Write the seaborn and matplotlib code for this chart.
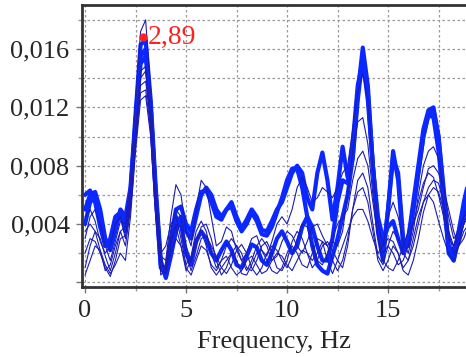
import matplotlib
matplotlib.use("Agg")
import matplotlib.pyplot as plt
import seaborn as sns
import numpy as np
from matplotlib.ticker import MultipleLocator, FuncFormatter

# frequency grid, 0.25 Hz step (0 .. 19 Hz)
freq = np.arange(0, 19.01, 0.25)

# spectral amplitudes, in units of 1e-3 (one row per Hz)
thick_1 = [5.0, 6.0, 6.2, 5.0,  3.0, 2.2, 3.5, 5.0,  4.5, 6.5, 11.5, 16.3,
           16.6, 12.5, 6.5, 1.5,  0.3, 1.8, 3.5, 4.5,  3.5, 3.0, 4.5, 6.0,
           6.5, 6.0, 5.0, 4.5,  5.0, 5.5, 4.5, 3.7,  4.3, 5.0, 4.5, 3.6,
           3.5, 4.2, 5.0, 5.5,  6.5, 7.5, 8.0, 7.5,  5.8, 5.0, 7.5, 8.9,
           7.0, 4.3, 6.5, 9.3,  7.2, 8.5, 13.0, 16.1,  13.5, 8.0, 3.5, 1.5,
           5.0, 9.0, 7.0, 2.5,  3.0, 5.5, 8.0, 10.5,  11.8, 12.0, 10.0, 6.0,
           2.0, 1.5, 3.5, 5.5,  7.0]
thick_2 = [4.0, 5.5, 5.8, 4.5,  2.5, 2.8, 4.3, 4.8,  3.5, 6.0, 11.0, 15.0,
           15.5, 12.0, 6.0, 1.2,  0.4, 2.5, 4.5, 4.0,  2.0, 1.2, 2.8, 3.5,
           3.0, 2.0, 1.5, 2.2,  2.8, 2.2, 1.2, 1.0,  1.8, 2.6, 2.4, 1.5,
           1.2, 2.0, 3.0, 3.5,  2.8, 2.0, 2.5, 3.8,  4.5, 3.8, 2.5, 1.5,
           1.5, 3.0, 5.5, 7.0,  6.8, 9.5, 13.5, 15.2,  12.5, 8.0, 4.5, 3.0,
           3.8, 4.2, 3.0, 2.0,  3.0, 5.0, 7.5, 10.0,  11.5, 11.3, 9.0, 5.5,
           2.5, 2.0, 3.5, 5.0,  6.0]
thick_3 = [6.0, 6.3, 5.5, 3.8,  2.5, 3.0, 4.5, 4.8,  3.8, 6.2, 11.0, 15.5,
           16.0, 12.0, 6.0, 1.0,  0.8, 3.0, 5.0, 5.2,  4.0, 3.5, 5.0, 6.2,
           6.3, 5.5, 4.5, 4.3,  5.0, 5.2, 4.2, 3.5,  4.0, 4.8, 4.2, 3.3,
           3.2, 3.8, 4.8, 5.8,  7.0, 7.8, 7.8, 6.5,  4.5, 2.5, 1.2, 0.8,
           0.6, 1.8, 3.0, 4.5,  6.0, 8.5, 12.5, 15.5,  13.0, 8.0, 4.0, 2.0,
           5.0, 8.5, 7.5, 3.0,  2.5, 5.0, 7.5, 10.0,  11.5, 11.8, 10.0, 6.5,
           2.5, 1.5, 3.0, 4.5,  6.0]
thin_1 = [3.0, 4.5, 5.0, 4.0,  2.5, 1.5, 2.8, 4.2,  4.0, 7.0, 12.5, 17.2,
          18.0, 13.0, 6.5, 1.8,  1.5, 4.5, 6.7, 6.0,  3.5, 2.5, 5.0, 7.0,
          6.5, 4.5, 2.5, 2.8,  3.8, 3.5, 2.2, 1.5,  2.0, 3.0, 3.2, 2.2,
          1.8, 2.8, 4.0, 4.5,  4.0, 5.0, 6.5, 7.2,  6.5, 5.5, 5.8, 6.5,
          6.2, 5.8, 6.5, 7.5,  8.0, 10.5, 13.0, 14.3,  12.5, 8.0, 4.0, 2.5,
          4.5, 5.5, 4.5, 2.8,  2.0, 3.5, 6.0, 8.0,  9.0, 9.3, 8.5, 6.5,
          4.5, 3.0, 3.5, 4.5,  5.5]
thin_2 = [1.0, 2.5, 3.5, 3.0,  1.8, 0.8, 2.0, 3.5,  3.8, 6.0, 10.0, 13.5,
          13.8, 11.0, 5.5, 1.5,  0.8, 2.5, 4.0, 3.8,  2.0, 0.8, 1.8, 3.0,
          3.2, 2.5, 1.8, 1.0,  0.6, 1.2, 2.2, 2.6,  2.0, 1.0, 0.5, 1.0,
          2.0, 2.5, 2.2, 1.5,  1.0, 1.8, 3.0, 4.0,  3.8, 2.5, 1.5, 1.2,
          2.0, 2.8, 2.5, 3.5,  6.0, 9.0, 11.0, 11.3,  9.5, 6.0, 3.0, 1.5,
          1.0, 0.8, 1.5, 2.5,  3.5, 4.0, 5.0, 6.5,  7.8, 8.0, 7.5, 6.5,
          5.0, 3.5, 2.5, 3.0,  4.0]
thin_3 = [2.0, 3.0, 2.8, 2.0,  1.0, 0.4, 1.5, 3.0,  3.2, 5.5, 9.5, 13.0,
          13.2, 10.5, 5.0, 1.0,  1.2, 3.5, 5.0, 4.5,  2.5, 1.5, 2.5, 3.8,
          4.0, 3.0, 1.5, 0.5,  1.0, 2.0, 2.5, 2.0,  1.0, 0.8, 1.5, 2.5,
          2.8, 2.0, 1.0, 0.8,  1.5, 2.8, 3.5, 3.0,  2.0, 1.0, 1.5, 2.5,
          2.8, 2.2, 1.5, 1.0,  2.5, 5.0, 7.0, 7.5,  6.5, 4.0, 1.8, 1.2,
          2.5, 3.5, 3.0, 2.0,  1.5, 2.5, 4.0, 5.5,  6.5, 7.0, 6.8, 5.5,
          3.5, 2.0, 2.5, 4.0,  5.0]
thin_4 = [4.5, 5.0, 4.2, 2.8,  2.0, 2.5, 4.0, 4.5,  3.0, 5.5, 10.5, 14.5,
          14.8, 11.5, 5.5, 2.0,  2.5, 4.0, 4.5, 3.0,  1.2, 1.8, 3.5, 4.2,
          3.5, 2.0, 1.0, 1.5,  2.5, 3.0, 2.5, 1.5,  0.8, 1.5, 2.5, 3.0,
          2.5, 1.5, 1.8, 2.8,  3.5, 3.2, 2.5, 2.0,  2.8, 3.8, 4.0, 3.2,
          2.5, 3.0, 4.0, 4.5,  5.0, 7.0, 8.5, 9.0,  8.0, 5.5, 3.0, 2.0,
          2.5, 2.0, 1.2, 1.5,  2.5, 4.0, 5.5, 6.8,  7.5, 7.2, 6.0, 4.5,
          3.0, 2.5, 3.5, 4.5,  4.8]
thin_5 = [0.5, 1.5, 2.5, 2.2,  1.2, 0.6, 1.2, 2.0,  1.5, 4.5, 9.0, 12.5,
          12.8, 10.0, 4.5, 0.8,  0.6, 2.0, 3.0, 2.5,  1.0, 0.5, 1.5, 2.5,
          2.2, 1.2, 0.8, 1.5,  1.8, 1.0, 0.5, 0.8,  1.5, 1.8, 1.2, 0.6,
          0.8, 1.5, 2.0, 1.8,  1.2, 0.8, 1.5, 2.2,  2.0, 1.5, 2.0, 2.8,
          2.5, 1.5, 0.8, 1.5,  3.0, 5.0, 6.2, 6.5,  5.5, 3.5, 1.5, 0.8,
          1.5, 2.5, 2.0, 0.8,  0.5, 1.5, 3.0, 4.8,  6.0, 6.5, 6.2, 5.0,
          3.5, 2.5, 3.0, 4.0,  4.5]
thin_6 = [3.5, 4.0, 3.5, 2.2,  0.8, 1.2, 2.5, 3.5,  2.5, 5.0, 10.0, 14.0,
          14.5, 11.0, 5.0, 0.5,  1.0, 3.0, 3.8, 2.5,  0.8, 1.5, 3.0, 3.5,
          2.5, 1.0, 0.5, 1.0,  1.5, 2.0, 1.5, 0.6,  0.5, 1.2, 2.0, 2.2,
          1.5, 0.8, 0.6, 1.0,  2.0, 2.5, 2.0, 1.2,  1.0, 2.0, 3.0, 2.8,
          1.5, 0.6, 1.5, 2.5,  3.5, 4.5, 5.0, 5.0,  4.2, 3.0, 2.0, 2.5,
          3.0, 2.8, 2.0, 1.0,  1.5, 3.0, 4.5, 5.5,  6.0, 5.5, 4.2, 3.0,
          2.0, 1.5, 2.5, 3.5,  4.0]

thick_curves = [thick_1, thick_2, thick_3]
thin_curves = [thin_1, thin_2, thin_3, thin_4, thin_5, thin_6]

peak_freq = 2.89
peak_amp = 0.0168
peak_label = "2,89"

sns.set_style("white")
plt.rcParams['font.family'] = ['Liberation Serif', 'DejaVu Serif']

fig = plt.figure(figsize=(4.66, 3.57), dpi=100)
ax = fig.add_axes([0.176, 0.196, 0.824, 0.790])

for curve in thick_curves:
    sns.lineplot(x=freq, y=np.array(curve) * 1e-3, ax=ax, color='#0a28ff', linewidth=3.0)
for curve in thin_curves:
    sns.lineplot(x=freq, y=np.array(curve) * 1e-3, ax=ax, color='#1c1cb4', linewidth=0.8)

ax.plot(peak_freq, peak_amp, 'o', color='#ff2020', markersize=5, zorder=5)
ax.text(peak_freq + 0.22, peak_amp, peak_label, color='#ff2020', fontsize=20,
        va='center', ha='left')


def comma_fmt(v, pos):
    if abs(v) < 1e-9:
        return ''
    return f"{v:.3f}".replace('.', ',')


ax.set_xlim(-0.15, 18.86)
ax.set_ylim(-0.00032, 0.01902)

ax.xaxis.set_major_locator(MultipleLocator(5))
ax.xaxis.set_minor_locator(MultipleLocator(2.5))
ax.yaxis.set_major_locator(MultipleLocator(0.004))
ax.yaxis.set_minor_locator(MultipleLocator(0.002))
ax.yaxis.set_major_formatter(FuncFormatter(comma_fmt))

ax.grid(True, which='both', linestyle=(0, (2, 2)), color='#999999', linewidth=0.9)
ax.set_axisbelow(True)

ax.tick_params(axis='both', which='major', labelsize=19, length=4, width=1,
               color='#777777', direction='out', pad=5)
ax.tick_params(axis='both', which='minor', length=3, width=1, color='#999999',
               direction='out')
ax.tick_params(bottom=True, left=True, which='both')

for side in ['left', 'bottom', 'top']:
    ax.spines[side].set_color('#333333')
    ax.spines[side].set_linewidth(2)
ax.spines['right'].set_visible(False)

ax.set_xlabel('Frequency, Hz', fontsize=19, labelpad=7)
ax.set_ylabel('')

fig.savefig('out.png', dpi=100)
